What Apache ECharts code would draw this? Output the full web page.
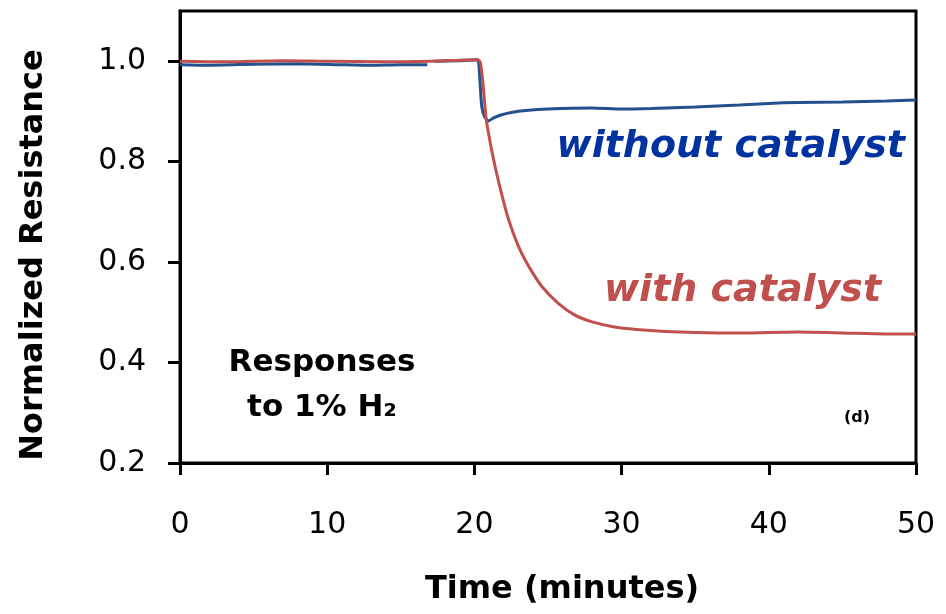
<!DOCTYPE html>
<html>
<head>
<meta charset="utf-8">
<script src="https://cdn.jsdelivr.net/npm/echarts@6/dist/echarts.min.js"></script>
<style>html,body{margin:0;padding:0;background:#fff}#c{width:946px;height:614px}</style>
</head>
<body>
<div id="c"></div>
<script>
// Time (minutes) and normalized resistance
var timeWithout = [0, 2, 5, 8, 11, 13, 15, 16.8, 17.0, 17.3, 19, 20.2, 20.3, 20.4, 20.5, 20.7, 20.95, 21.3, 21.8, 22.5, 23.5, 25, 28, 30, 32, 35, 38, 40, 42, 45, 48, 50];
var valWithout  = [0.993, 0.992, 0.994, 0.995, 0.993, 0.992, 0.993, 0.993, null, 1.0, 1.001, 1.003, 0.995, 0.95, 0.91, 0.889, 0.881, 0.887, 0.893, 0.898, 0.902, 0.905, 0.907, 0.905, 0.906, 0.909, 0.913, 0.916, 0.918, 0.919, 0.921, 0.923];
var timeWith = [0, 3, 7, 10, 14, 17, 19, 20.2, 20.4, 20.6, 20.8, 21.0, 21.17, 21.5, 21.84, 22.3, 23.0, 23.7, 24.6, 25.7, 26.8, 28, 29.5, 31, 33, 35, 38, 42, 45, 48, 50];
var valWith  = [1.0, 0.999, 1.001, 1.0, 0.999, 1.0, 1.002, 1.003, 0.998, 0.95, 0.885, 0.85, 0.823, 0.778, 0.737, 0.687, 0.631, 0.591, 0.551, 0.518, 0.495, 0.481, 0.471, 0.466, 0.462, 0.460, 0.459, 0.461, 0.459, 0.457, 0.457];
var yTicks = [0.2, 0.4, 0.6, 0.8, 1.0];
var xTicks = [0, 10, 20, 30, 40, 50];

function pairs(xs, ys) { return xs.map(function (x, i) { return [x, ys[i]]; }); }

var FONT = '"DejaVu Sans", Verdana, sans-serif';
var chart = echarts.init(document.getElementById('c'));
chart.setOption({
  animation: false,
  backgroundColor: '#fff',
  grid: { left: 180, right: 30, top: 11, bottom: 151, show: true, borderColor: '#000', borderWidth: 3 },
  xAxis: {
    type: 'value', min: 0, max: 50, interval: 10,
    name: 'Time (minutes)', nameLocation: 'middle', nameGap: 111,
    nameTextStyle: { fontFamily: FONT, fontWeight: 'bold', fontSize: 32, color: '#000', padding: [0, 0, 0, 28] },
    axisLine: { show: true, lineStyle: { color: '#000', width: 3 } },
    axisTick: { show: true, inside: false, length: 12, lineStyle: { color: '#000', width: 3 }, customValues: xTicks },
    axisLabel: { margin: 47, fontFamily: FONT, fontSize: 30, color: '#000', customValues: xTicks },
    splitLine: { show: false }
  },
  yAxis: {
    type: 'value', min: 0.2, max: 1.1, interval: 0.2,
    name: 'Normalized Resistance', nameLocation: 'middle', nameGap: 130,
    nameTextStyle: { fontFamily: FONT, fontWeight: 'bold', fontSize: 32, color: '#000', padding: [0, 36, 0, 0] },
    axisLine: { show: true, lineStyle: { color: '#000', width: 3 } },
    axisTick: { show: true, inside: false, length: 12, lineStyle: { color: '#000', width: 3 }, customValues: yTicks },
    axisLabel: { margin: 34, fontFamily: FONT, fontSize: 30, color: '#000', customValues: yTicks,
      formatter: function (v) { return v.toFixed(1); } },
    splitLine: { show: false }
  },
  series: [
    { type: 'line', name: 'without catalyst', data: pairs(timeWithout, valWithout), showSymbol: false,
      smooth: 0.2, lineStyle: { color: '#23508f', width: 3 }, z: 2 },
    { type: 'line', name: 'with catalyst', data: pairs(timeWith, valWith), showSymbol: false,
      smooth: 0.3, lineStyle: { color: '#c0504d', width: 3 }, z: 3 }
  ],
  graphic: [
    { type: 'text', x: 905, y: 147, style: { text: 'without catalyst', fill: '#0033a0',
      font: 'italic bold 38px ' + FONT, align: 'right', verticalAlign: 'middle' } },
    { type: 'text', x: 604, y: 291, style: { text: 'with catalyst', fill: '#c0504d',
      font: 'italic bold 38px ' + FONT, align: 'left', verticalAlign: 'middle' } },
    { type: 'text', x: 322, y: 340, style: { text: 'Responses\nto 1% H\u2082', fill: '#000',
      font: 'bold 31px ' + FONT, align: 'center', verticalAlign: 'top', lineHeight: 45 } },
    { type: 'text', x: 857, y: 418, style: { text: '(d)', fill: '#000', font: 'bold 16px ' + FONT,
      align: 'center', verticalAlign: 'middle' } }
  ]
});
</script>
</body>
</html>
